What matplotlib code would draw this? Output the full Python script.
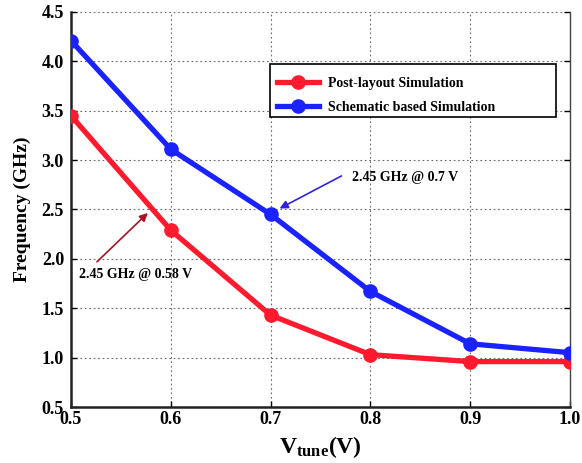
import matplotlib
matplotlib.use("Agg")
import matplotlib.pyplot as plt
from matplotlib.patches import Rectangle

vtune = [0.5, 0.6, 0.7, 0.8, 0.9, 1.0]
post_layout = [3.45, 2.29, 1.43, 1.03, 0.96, 0.96]
schematic = [4.21, 3.11, 2.45, 1.67, 1.14, 1.05]
xticks = [0.5, 0.6, 0.7, 0.8, 0.9, 1.0]
yticks = [0.5, 1.0, 1.5, 2.0, 2.5, 3.0, 3.5, 4.0, 4.5]

plt.rcParams['font.family'] = ['Liberation Serif', 'DejaVu Serif']
plt.rcParams['font.weight'] = 'bold'
plt.rcParams['mathtext.fontset'] = 'custom'
plt.rcParams['mathtext.bf'] = 'Liberation Serif:bold'
plt.rcParams['mathtext.rm'] = 'Liberation Serif:bold'

fig = plt.figure(figsize=(5.82, 4.63), dpi=100)
ax = fig.add_axes([71/582, 1 - 407/463, 499/582, 395/463])

ax.plot(vtune, post_layout, '-o', color='#FF1A2E', lw=3.8, ms=9.5,
        label='Post-layout Simulation', zorder=3)
ax.plot(vtune, schematic, '-o', color='#1A22FF', lw=3.8, ms=9.5,
        label='Schematic based Simulation', zorder=3)

ax.set_xlim(0.5, 1.0)
ax.set_ylim(0.5, 4.5)
ax.set_xticks(xticks)
ax.set_yticks(yticks)
ax.set_xticklabels([f'{v:.1f}' for v in xticks], fontsize=13, fontweight='bold')
ax.set_yticklabels([f'{v:.1f}' for v in yticks], fontsize=13, fontweight='bold')
ax.tick_params(direction='in', length=4, width=1, top=False, right=True)
ax.tick_params(axis='y', pad=5)
ax.tick_params(axis='x', pad=3)
ax.grid(True, linestyle=(0, (1.5, 2.5)), color='#666666', linewidth=0.8)

ax.spines['top'].set_visible(False)
for s in ['left', 'bottom']:
    ax.spines[s].set_linewidth(1.8)
    ax.spines[s].set_color('#222222')
ax.spines['right'].set_linewidth(1.0)
ax.spines['right'].set_color('#444444')

ax.set_ylabel('Frequency (GHz)', fontsize=14, fontweight='bold', labelpad=8)
ax.set_xlabel(r'$\mathbf{V_{tune}}$(V)', fontsize=17, fontweight='bold', labelpad=4)

# legend frame (drawn as box in axes fraction)
box = Rectangle(((270-71)/499, (407-117)/395), (556-270)/499, (117-64)/395,
                transform=ax.transAxes, facecolor='white', edgecolor='black',
                linewidth=1.2, zorder=4)
ax.add_patch(box)
leg = ax.legend(loc='upper left', bbox_to_anchor=((266-71)/499, (407-66)/395),
                fontsize=10, frameon=False, handlelength=3.0, handletextpad=0.7,
                borderpad=0.3, labelspacing=0.75)
leg.set_zorder(5)
for t in leg.get_texts():
    t.set_fontweight('bold')

ax.annotate('', xy=(0.709, 2.51), xytext=(0.771, 2.84),
            arrowprops=dict(arrowstyle='-|>', color='#3322DD', lw=1.2, mutation_scale=12,
                            shrinkA=0, shrinkB=0))
ax.text(0.782, 2.82, '2.45 GHz @ 0.7 V', fontsize=10, fontweight='bold',
        va='center', ha='left')
ax.annotate('', xy=(0.577, 2.465), xytext=(0.526, 1.97),
            arrowprops=dict(arrowstyle='-|>', color='#AA1122', lw=1.2, mutation_scale=12,
                            shrinkA=0, shrinkB=0))
ax.text(0.508, 1.84, '2.45 GHz @ 0.58 V', fontsize=10, fontweight='bold',
        va='center', ha='left')

fig.savefig('out.png', dpi=100)
